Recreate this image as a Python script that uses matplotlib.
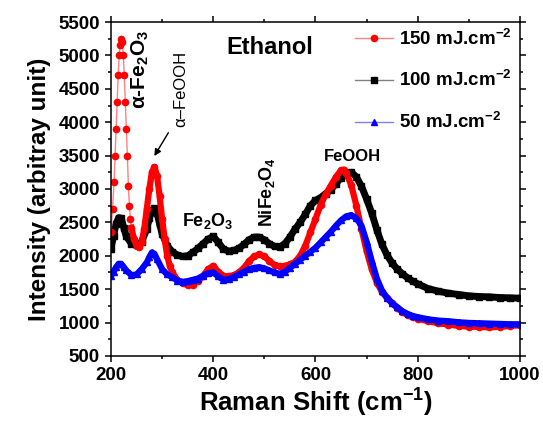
import numpy as np
import matplotlib
matplotlib.use('Agg')
import matplotlib.pyplot as plt
from matplotlib.lines import Line2D
from matplotlib.ticker import MultipleLocator

plt.rcParams['font.family'] = ['Liberation Sans', 'DejaVu Sans']
plt.rcParams['font.weight'] = 'bold'
plt.rcParams['mathtext.fontset'] = 'custom'
plt.rcParams['mathtext.rm'] = 'Liberation Sans:bold'
plt.rcParams['mathtext.bf'] = 'Liberation Sans:bold'
plt.rcParams['mathtext.default'] = 'rm'

# 150 mJ.cm-2 (red)
x150 = [200, 203, 206, 208, 210, 212, 214, 216, 218, 220, 222, 224, 226, 228, 230, 232, 234, 236, 238, 240,
        245, 250, 255, 260, 265, 270, 275, 280, 285, 290, 295, 300, 305, 310, 315, 320, 330, 340, 350, 360,
        370, 380, 390, 400, 410, 420, 430, 440, 450, 460, 470, 480, 490, 500, 510, 520, 530, 540, 550, 560,
        570, 580, 590, 600, 610, 620, 630, 640, 650, 655, 660, 670, 680, 690, 700, 710, 720, 730, 740, 750,
        760, 770, 780, 790, 800, 820, 840, 860, 880, 900, 920, 940, 960, 980, 1000]
y150 = [2350, 2700, 3100, 3500, 3900, 4300, 4700, 5000, 5150, 5250, 5200, 5000, 4700, 4300, 3900, 3500, 3050, 2750, 2550, 2420,
        2250, 2150, 2130, 2200, 2400, 2700, 3000, 3250, 3330, 3200, 2900, 2550, 2250, 2000, 1850, 1750, 1640, 1590, 1560, 1570,
        1620, 1700, 1800, 1850, 1760, 1700, 1690, 1710, 1750, 1820, 1920, 1990, 2020, 1990, 1920, 1860, 1840, 1850, 1870, 1910,
        2000, 2150, 2350, 2550, 2760, 2920, 3050, 3180, 3280, 3290, 3240, 3060, 2750, 2400, 2070, 1800, 1600, 1460, 1370, 1290,
        1220, 1160, 1110, 1080, 1060, 1020, 990, 970, 950, 940, 935, 930, 935, 950, 960]

# 100 mJ.cm-2 (black)
x100 = [200, 205, 210, 215, 220, 225, 230, 240, 250, 260, 270, 275, 280, 285, 290, 295, 300, 310, 320, 330,
        340, 350, 360, 370, 380, 390, 400, 410, 420, 430, 440, 450, 460, 470, 480, 490, 500, 510, 520, 530,
        540, 550, 560, 570, 580, 590, 600, 610, 620, 630, 640, 650, 660, 670, 680, 690, 700, 710, 720, 730,
        740, 750, 760, 770, 780, 790, 800, 820, 840, 860, 880, 900, 920, 940, 960, 980, 1000]
y100 = [2100, 2300, 2480, 2570, 2560, 2420, 2290, 2180, 2155, 2210, 2400, 2560, 2680, 2710, 2640, 2480, 2330, 2150, 2060, 2010,
        1990, 2000, 2050, 2110, 2180, 2250, 2290, 2200, 2100, 2070, 2080, 2110, 2170, 2240, 2280, 2280, 2240, 2180, 2140, 2135,
        2180, 2280, 2400, 2500, 2620, 2750, 2830, 2870, 2930, 2990, 3080, 3170, 3230, 3250, 3180, 3040, 2850, 2640, 2390, 2170,
        2010, 1890, 1800, 1730, 1670, 1620, 1580, 1510, 1470, 1440, 1420, 1400, 1390, 1385, 1375, 1370, 1365]

# 50 mJ.cm-2 (blue)
x50 = [200, 205, 210, 215, 220, 225, 230, 240, 250, 260, 270, 275, 280, 285, 290, 300, 310, 320, 330, 340,
       350, 360, 370, 380, 390, 400, 410, 420, 430, 440, 450, 460, 470, 480, 490, 500, 510, 520, 530, 540,
       550, 560, 570, 580, 590, 600, 610, 620, 630, 640, 650, 660, 670, 680, 690, 700, 710, 720, 730, 740,
       750, 760, 770, 780, 790, 800, 820, 840, 860, 880, 900, 920, 940, 960, 980, 1000]
y50 = [1700, 1760, 1830, 1880, 1880, 1830, 1780, 1710, 1720, 1800, 1900, 1980, 2050, 2030, 1950, 1800, 1720, 1680, 1630, 1610,
       1620, 1640, 1660, 1700, 1740, 1750, 1690, 1640, 1650, 1680, 1720, 1760, 1800, 1820, 1830, 1810, 1780, 1750, 1730, 1760,
       1820, 1880, 1940, 2000, 2060, 2120, 2200, 2280, 2360, 2450, 2530, 2590, 2610, 2560, 2450, 2210, 1920, 1660, 1480, 1370,
       1290, 1230, 1170, 1130, 1100, 1080, 1050, 1030, 1020, 1005, 995, 990, 985, 980, 975, 975]

fig = plt.figure(figsize=(5.43, 4.25), dpi=100)
ax = fig.add_axes([0.2044, 0.1624, 0.7532, 0.7858])

# thick band + markers, like the dense Origin plot (black, then red, then blue on top)
ax.plot(x100, y100, color='black', lw=5, solid_joinstyle='round')
ax.plot(x100, y100, ls='none', marker='s', ms=4, color='black')

x150a = np.array(x150)
y150a = np.array(y150)
band = x150a >= 240  # the sharp peak below 240 shows as separate dots
ax.plot(x150, y150, color='#ff8080', lw=1)
ax.plot(x150a[band], y150a[band], color='red', lw=4.5, solid_joinstyle='round')
ax.plot(x150, y150, ls='none', marker='o', ms=4.5, color='red')

ax.plot(x50, y50, color='blue', lw=4.5, solid_joinstyle='round')
ax.plot(x50, y50, ls='none', marker='^', ms=4.5, color='blue')

ax.set_xlim(200, 1000)
ax.set_ylim(500, 5500)
ax.xaxis.set_major_locator(MultipleLocator(200))
ax.xaxis.set_minor_locator(MultipleLocator(100))
ax.yaxis.set_major_locator(MultipleLocator(500))
ax.yaxis.set_minor_locator(MultipleLocator(250))
ax.tick_params(which='both', direction='out', top=True, right=True, width=1.1, labelsize=13.5)
ax.tick_params(which='major', length=4.5)
ax.tick_params(which='minor', length=2.5)
for s in ax.spines.values():
    s.set_linewidth(1.1)

ax.set_xlabel('Raman Shift (cm$^{-1}$)', fontsize=18.5, fontweight='bold', labelpad=2)
ax.set_ylabel('Intensity (arbitray unit)', fontsize=17.5, fontweight='bold', labelpad=5)

handles = [
    Line2D([], [], color='#ff8080', lw=1, marker='o', ms=4.5, mfc='red', mec='red'),
    Line2D([], [], color='grey', lw=1, marker='s', ms=4, mfc='black', mec='black'),
    Line2D([], [], color='#8080ff', lw=1, marker='^', ms=4.5, mfc='blue', mec='blue'),
]
labels = ['150 mJ.cm$^{-2}$', '100 mJ.cm$^{-2}$', '50 mJ.cm$^{-2}$']
ax.legend(handles, labels, loc='upper left', bbox_to_anchor=(0.597, 0.98),
          frameon=False, fontsize=13.5, handlelength=2.0, handletextpad=0.35, labelspacing=1.15,
          borderpad=0, borderaxespad=0, numpoints=1)

ax.text(511, 5125, 'Ethanol', fontsize=17, fontweight='bold', ha='center', va='center')
ax.text(258, 4795, 'α-Fe$_2$O$_3$', fontsize=15, fontweight='bold', rotation=90, ha='center', va='center')
ax.text(337, 4494, 'α–FeOOH', fontsize=12, fontweight='normal', rotation=90, ha='center', va='center')
ax.annotate('', xy=(282, 3458), xytext=(315, 3878),
            arrowprops=dict(arrowstyle='-|>', color='black', lw=1, mutation_scale=10))
ax.text(390, 2527, 'Fe$_2$O$_3$', fontsize=13, fontweight='bold', ha='center', va='center')
ax.text(505, 2947, 'NiFe$_2$O$_4$', fontsize=13, fontweight='bold', rotation=90, ha='center', va='center')
ax.text(673, 3488, 'FeOOH', fontsize=12, fontweight='bold', ha='center', va='center')

fig.savefig('out.png', dpi=100)
